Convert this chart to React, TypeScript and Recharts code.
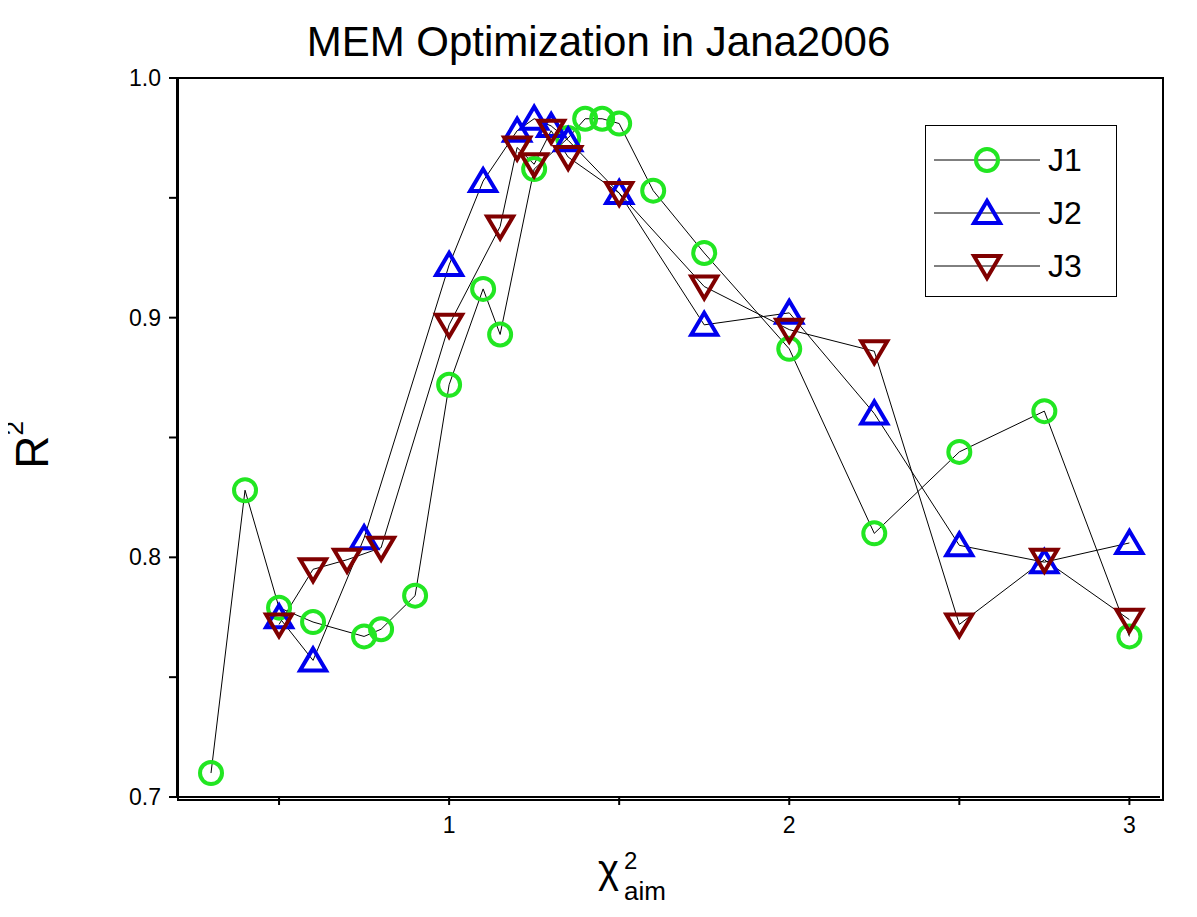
import React from 'react';
import { LineChart, Line, XAxis, YAxis } from 'recharts';

const j1X = [0.3, 0.4, 0.5, 0.6, 0.75, 0.8, 0.9, 1.0, 1.1, 1.15, 1.25, 1.35, 1.4, 1.45, 1.5, 1.6, 1.75, 2.0, 2.25, 2.5, 2.75, 3.0];
const j1Y = [0.71, 0.828, 0.779, 0.773, 0.767, 0.77, 0.784, 0.872, 0.912, 0.893, 0.962, 0.975, 0.983, 0.983, 0.981, 0.953, 0.927, 0.887, 0.81, 0.844, 0.861, 0.767];
const j2X = [0.5, 0.6, 0.75, 1.0, 1.1, 1.2, 1.25, 1.3, 1.35, 1.5, 1.75, 2.0, 2.25, 2.5, 2.75, 3.0];
const j2Y = [0.775, 0.757, 0.808, 0.922, 0.957, 0.978, 0.983, 0.98, 0.974, 0.952, 0.897, 0.902, 0.86, 0.805, 0.798, 0.806];
const j3X = [0.5, 0.6, 0.7, 0.8, 1.0, 1.15, 1.2, 1.25, 1.3, 1.35, 1.5, 1.75, 2.0, 2.25, 2.5, 2.75, 3.0];
const j3Y = [0.772, 0.795, 0.799, 0.804, 0.897, 0.938, 0.971, 0.964, 0.978, 0.967, 0.952, 0.913, 0.895, 0.886, 0.772, 0.799, 0.774];

const xTicks = [0.5, 1, 1.5, 2, 2.5, 3];
const yTicks = [0.7, 0.75, 0.8, 0.85, 0.9, 0.95, 1.0];

const toData = (xs: number[], ys: number[]) => xs.map((x, i) => ({ x, y: ys[i] }));
const d1 = toData(j1X, j1Y);
const d2 = toData(j2X, j2Y);
const d3 = toData(j3X, j3Y);

const FONT = 'Arial, "Liberation Sans", sans-serif';
const GREEN = '#22e622';
const BLUE = '#0000ee';
const RED = '#800000';

const Circle = (p: any) => <circle cx={p.cx} cy={p.cy} r={11} fill="none" stroke={GREEN} strokeWidth={4} />;
const Up = (p: any) => {
  const { cx, cy } = p;
  return <polygon points={`${cx},${cy - 12} ${cx - 13},${cy + 10} ${cx + 13},${cy + 10}`} fill="none" stroke={BLUE} strokeWidth={4} />;
};
const Down = (p: any) => {
  const { cx, cy } = p;
  return <polygon points={`${cx},${cy + 12} ${cx - 13},${cy - 10} ${cx + 13},${cy - 10}`} fill="none" stroke={RED} strokeWidth={4} />;
};

const XTick = (p: any) => {
  const v = p.payload.value;
  if (!Number.isInteger(v)) return <g />;
  return <text x={p.x} y={p.y + 26} textAnchor="middle" fontSize={23} fontFamily={FONT} fill="#000">{v}</text>;
};
const YTick = (p: any) => {
  const v = p.payload.value;
  if (Math.round(v * 100) % 10 !== 0) return <g />;
  return <text x={p.x - 6} y={p.y + 8} textAnchor="end" fontSize={23} fontFamily={FONT} fill="#000">{v.toFixed(1)}</text>;
};

const legendItems = [
  { name: 'J1', M: Circle },
  { name: 'J2', M: Up },
  { name: 'J3', M: Down },
];

export default function App() {
  return (
    <div style={{ position: 'relative', width: 1181, height: 900, fontFamily: FONT, background: '#fff' }}>
      <div style={{ position: 'absolute', left: 0, width: 1181, top: 10, textAlign: 'center', fontSize: 42 }}>
        MEM Optimization in Jana2006
      </div>
      <div style={{ position: 'absolute', left: 0, top: 410, fontSize: 46, transform: 'rotate(-90deg)' }}>
        R<span style={{ fontSize: 26, verticalAlign: 'top', position: 'relative', top: -6 }}>2</span>
      </div>
      <div style={{ position: 'absolute', left: 590, top: 836, fontSize: 40, lineHeight: '50px', whiteSpace: 'nowrap' }}>
        <span>χ</span>
        <span style={{ fontSize: 24, position: 'absolute', left: 26, top: -8 }}>2</span>
        <span style={{ fontSize: 26, position: 'absolute', left: 26, top: 22 }}>aim</span>
      </div>
      <div style={{ position: 'absolute', left: 169, top: 69, width: 983, height: 720, border: '2px solid #000', pointerEvents: 'none' }} />
      <LineChart width={1181} height={900} margin={{ top: 70, right: 29, bottom: 0, left: 0 }}>
        <XAxis type="number" dataKey="x" domain={[0.2, 3.09]} ticks={xTicks}
          stroke="#000" strokeWidth={2} tickSize={8} height={111}
          tick={<XTick />} allowDataOverflow />
        <YAxis type="number" domain={[0.7, 1.0]} ticks={yTicks} width={169}
          stroke="#000" strokeWidth={2} tickSize={8} tick={<YTick />} />
        <Line data={d1} dataKey="y" stroke="#000" strokeWidth={1} dot={<Circle />} isAnimationActive={false} />
        <Line data={d2} dataKey="y" stroke="#000" strokeWidth={1} dot={<Up />} isAnimationActive={false} />
        <Line data={d3} dataKey="y" stroke="#000" strokeWidth={1} dot={<Down />} isAnimationActive={false} />
      </LineChart>
      <div style={{ position: 'absolute', left: 917, top: 117, width: 190, height: 170, border: '1px solid #000', background: '#fff' }}>
        {legendItems.map(({ name, M }, i) => (
          <div key={name} style={{ position: 'absolute', top: 14 + i * 53, left: 0, height: 40, width: 190 }}>
            <svg width={110} height={40} style={{ position: 'absolute', left: 6, top: 0 }}>
              <line x1={2} y1={20} x2={108} y2={20} stroke="#000" strokeWidth={1} />
              <M cx={55} cy={20} />
            </svg>
            <span style={{ position: 'absolute', left: 122, top: 2, fontSize: 32 }}>{name}</span>
          </div>
        ))}
      </div>
    </div>
  );
}
